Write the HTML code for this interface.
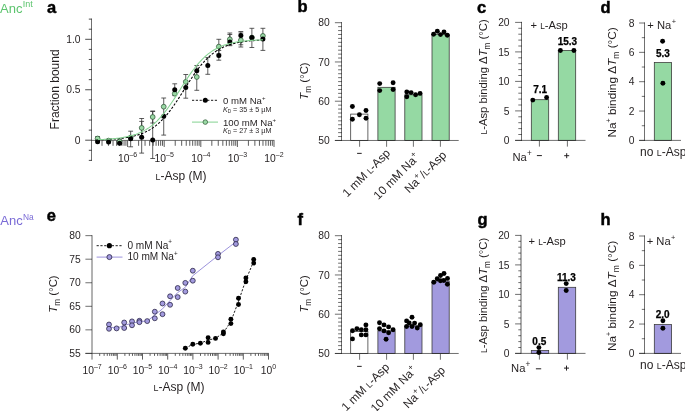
<!DOCTYPE html>
<html><head><meta charset="utf-8"><style>
html,body{margin:0;padding:0;background:#fff;}
svg{display:block;will-change:transform;}
text{font-family:"Liberation Sans",sans-serif;}
</style></head><body>
<svg width="685" height="411" viewBox="0 0 685 411">
<rect width="685" height="411" fill="#fff"/>
<text x="47" y="12.5" font-size="16.5" font-weight="bold" fill="#000" stroke="#000" stroke-width="0.45">a</text>
<text x="297.5" y="12.4" font-size="16.5" font-weight="bold" fill="#000" stroke="#000" stroke-width="0.45">b</text>
<text x="477" y="13" font-size="16.5" font-weight="bold" fill="#000" stroke="#000" stroke-width="0.45">c</text>
<text x="600.5" y="12.6" font-size="16.5" font-weight="bold" fill="#000" stroke="#000" stroke-width="0.45">d</text>
<text x="46.8" y="221.2" font-size="16.5" font-weight="bold" fill="#000" stroke="#000" stroke-width="0.45">e</text>
<text x="297.6" y="224.6" font-size="16.5" font-weight="bold" fill="#000" stroke="#000" stroke-width="0.45">f</text>
<text x="477.4" y="224.5" font-size="16.5" font-weight="bold" fill="#000" stroke="#000" stroke-width="0.45">g</text>
<text x="600.6" y="225.1" font-size="16.5" font-weight="bold" fill="#000" stroke="#000" stroke-width="0.45">h</text>
<text x="0" y="12.7" font-size="13" fill="#5cc46e">Anc<tspan font-size="9" dx="0.3" dy="-5.4">Int</tspan></text>
<text x="0.3" y="224.9" font-size="13" fill="#7a6bd6">Anc<tspan font-size="8.4" dx="0.3" dy="-5.4">Na</tspan></text>
<line x1="91.5" y1="18.72" x2="91.5" y2="160.78" stroke="#222" stroke-width="0.65"/>
<line x1="88.8" y1="160.38" x2="92" y2="160.38" stroke="#3a3a3a" stroke-width="0.9" />
<line x1="88.8" y1="150.29" x2="92" y2="150.29" stroke="#3a3a3a" stroke-width="0.9" />
<line x1="85.2" y1="140.2" x2="92" y2="140.2" stroke="#3a3a3a" stroke-width="0.9" />
<line x1="88.8" y1="130.11" x2="92" y2="130.11" stroke="#3a3a3a" stroke-width="0.9" />
<line x1="88.8" y1="120.02" x2="92" y2="120.02" stroke="#3a3a3a" stroke-width="0.9" />
<line x1="88.8" y1="109.93" x2="92" y2="109.93" stroke="#3a3a3a" stroke-width="0.9" />
<line x1="88.8" y1="99.84" x2="92" y2="99.84" stroke="#3a3a3a" stroke-width="0.9" />
<line x1="85.2" y1="89.75" x2="92" y2="89.75" stroke="#3a3a3a" stroke-width="0.9" />
<line x1="88.8" y1="79.66" x2="92" y2="79.66" stroke="#3a3a3a" stroke-width="0.9" />
<line x1="88.8" y1="69.57" x2="92" y2="69.57" stroke="#3a3a3a" stroke-width="0.9" />
<line x1="88.8" y1="59.48" x2="92" y2="59.48" stroke="#3a3a3a" stroke-width="0.9" />
<line x1="88.8" y1="49.39" x2="92" y2="49.39" stroke="#3a3a3a" stroke-width="0.9" />
<line x1="85.2" y1="39.3" x2="92" y2="39.3" stroke="#3a3a3a" stroke-width="0.9" />
<line x1="88.8" y1="29.21" x2="92" y2="29.21" stroke="#3a3a3a" stroke-width="0.9" />
<line x1="88.8" y1="19.12" x2="92" y2="19.12" stroke="#3a3a3a" stroke-width="0.9" />
<text x="80.6" y="143.8" font-size="10.3" text-anchor="end" fill="#231f20" >0</text>
<text x="80.6" y="93.35" font-size="10.3" text-anchor="end" fill="#231f20" >0.5</text>
<text x="80.6" y="42.9" font-size="10.3" text-anchor="end" fill="#231f20" >1.0</text>
<line x1="102.02" y1="140.5" x2="102.02" y2="145.8" stroke="#333" stroke-width="0.8" />
<line x1="108.46" y1="140.5" x2="108.46" y2="145.8" stroke="#333" stroke-width="0.8" />
<line x1="113.04" y1="140.5" x2="113.04" y2="145.8" stroke="#333" stroke-width="0.8" />
<line x1="116.58" y1="140.5" x2="116.58" y2="145.8" stroke="#333" stroke-width="0.8" />
<line x1="119.48" y1="140.5" x2="119.48" y2="145.8" stroke="#333" stroke-width="0.8" />
<line x1="121.93" y1="140.5" x2="121.93" y2="145.8" stroke="#333" stroke-width="0.8" />
<line x1="124.05" y1="140.5" x2="124.05" y2="145.8" stroke="#333" stroke-width="0.8" />
<line x1="125.93" y1="140.5" x2="125.93" y2="145.8" stroke="#333" stroke-width="0.8" />
<line x1="127.6" y1="140.5" x2="127.6" y2="147" stroke="#333" stroke-width="0.8" />
<line x1="138.62" y1="140.5" x2="138.62" y2="145.8" stroke="#333" stroke-width="0.8" />
<line x1="145.06" y1="140.5" x2="145.06" y2="145.8" stroke="#333" stroke-width="0.8" />
<line x1="149.64" y1="140.5" x2="149.64" y2="145.8" stroke="#333" stroke-width="0.8" />
<line x1="153.18" y1="140.5" x2="153.18" y2="145.8" stroke="#333" stroke-width="0.8" />
<line x1="156.08" y1="140.5" x2="156.08" y2="145.8" stroke="#333" stroke-width="0.8" />
<line x1="158.53" y1="140.5" x2="158.53" y2="145.8" stroke="#333" stroke-width="0.8" />
<line x1="160.65" y1="140.5" x2="160.65" y2="145.8" stroke="#333" stroke-width="0.8" />
<line x1="162.53" y1="140.5" x2="162.53" y2="145.8" stroke="#333" stroke-width="0.8" />
<line x1="164.2" y1="140.5" x2="164.2" y2="147" stroke="#333" stroke-width="0.8" />
<line x1="175.22" y1="140.5" x2="175.22" y2="145.8" stroke="#333" stroke-width="0.8" />
<line x1="181.66" y1="140.5" x2="181.66" y2="145.8" stroke="#333" stroke-width="0.8" />
<line x1="186.24" y1="140.5" x2="186.24" y2="145.8" stroke="#333" stroke-width="0.8" />
<line x1="189.78" y1="140.5" x2="189.78" y2="145.8" stroke="#333" stroke-width="0.8" />
<line x1="192.68" y1="140.5" x2="192.68" y2="145.8" stroke="#333" stroke-width="0.8" />
<line x1="195.13" y1="140.5" x2="195.13" y2="145.8" stroke="#333" stroke-width="0.8" />
<line x1="197.25" y1="140.5" x2="197.25" y2="145.8" stroke="#333" stroke-width="0.8" />
<line x1="199.13" y1="140.5" x2="199.13" y2="145.8" stroke="#333" stroke-width="0.8" />
<line x1="200.8" y1="140.5" x2="200.8" y2="147" stroke="#333" stroke-width="0.8" />
<line x1="211.82" y1="140.5" x2="211.82" y2="145.8" stroke="#333" stroke-width="0.8" />
<line x1="218.26" y1="140.5" x2="218.26" y2="145.8" stroke="#333" stroke-width="0.8" />
<line x1="222.84" y1="140.5" x2="222.84" y2="145.8" stroke="#333" stroke-width="0.8" />
<line x1="226.38" y1="140.5" x2="226.38" y2="145.8" stroke="#333" stroke-width="0.8" />
<line x1="229.28" y1="140.5" x2="229.28" y2="145.8" stroke="#333" stroke-width="0.8" />
<line x1="231.73" y1="140.5" x2="231.73" y2="145.8" stroke="#333" stroke-width="0.8" />
<line x1="233.85" y1="140.5" x2="233.85" y2="145.8" stroke="#333" stroke-width="0.8" />
<line x1="235.73" y1="140.5" x2="235.73" y2="145.8" stroke="#333" stroke-width="0.8" />
<line x1="237.4" y1="140.5" x2="237.4" y2="147" stroke="#333" stroke-width="0.8" />
<line x1="248.42" y1="140.5" x2="248.42" y2="145.8" stroke="#333" stroke-width="0.8" />
<line x1="254.86" y1="140.5" x2="254.86" y2="145.8" stroke="#333" stroke-width="0.8" />
<line x1="259.44" y1="140.5" x2="259.44" y2="145.8" stroke="#333" stroke-width="0.8" />
<line x1="262.98" y1="140.5" x2="262.98" y2="145.8" stroke="#333" stroke-width="0.8" />
<line x1="265.88" y1="140.5" x2="265.88" y2="145.8" stroke="#333" stroke-width="0.8" />
<line x1="268.33" y1="140.5" x2="268.33" y2="145.8" stroke="#333" stroke-width="0.8" />
<line x1="270.45" y1="140.5" x2="270.45" y2="145.8" stroke="#333" stroke-width="0.8" />
<line x1="272.33" y1="140.5" x2="272.33" y2="145.8" stroke="#333" stroke-width="0.8" />
<line x1="274" y1="140.5" x2="274" y2="147" stroke="#333" stroke-width="0.8" />
<line x1="91.5" y1="140.4" x2="274.4" y2="140.4" stroke="#222" stroke-width="0.65"/>
<text x="127.6" y="162.3" font-size="10.3" text-anchor="middle" fill="#231f20">10<tspan font-size="7" dy="-5.2">–6</tspan></text>
<text x="164.2" y="162.3" font-size="10.3" text-anchor="middle" fill="#231f20">10<tspan font-size="7" dy="-5.2">–5</tspan></text>
<text x="200.8" y="162.3" font-size="10.3" text-anchor="middle" fill="#231f20">10<tspan font-size="7" dy="-5.2">–4</tspan></text>
<text x="237.4" y="162.3" font-size="10.3" text-anchor="middle" fill="#231f20">10<tspan font-size="7" dy="-5.2">–3</tspan></text>
<text x="274" y="162.3" font-size="10.3" text-anchor="middle" fill="#231f20">10<tspan font-size="7" dy="-5.2">–2</tspan></text>
<text x="58.6" y="89.4" font-size="12" text-anchor="middle" fill="#231f20" transform="rotate(-90 58.6 89.4)">Fraction bound</text>
<text x="181" y="179.7" font-size="12" text-anchor="middle" fill="#231f20"><tspan font-size="8.88">L</tspan>-Asp (M)</text>
<line x1="141.68" y1="118.5" x2="141.68" y2="137" stroke="#333" stroke-width="0.8" />
<line x1="139.28" y1="118.5" x2="144.08" y2="118.5" stroke="#333" stroke-width="0.8" />
<line x1="139.28" y1="137" x2="144.08" y2="137" stroke="#333" stroke-width="0.8" />
<line x1="152.7" y1="111" x2="152.7" y2="123" stroke="#333" stroke-width="0.8" />
<line x1="150.3" y1="111" x2="155.1" y2="111" stroke="#333" stroke-width="0.8" />
<line x1="150.3" y1="123" x2="155.1" y2="123" stroke="#333" stroke-width="0.8" />
<line x1="196.78" y1="65.5" x2="196.78" y2="90.3" stroke="#333" stroke-width="0.8" />
<line x1="194.38" y1="65.5" x2="199.18" y2="65.5" stroke="#333" stroke-width="0.8" />
<line x1="194.38" y1="90.3" x2="199.18" y2="90.3" stroke="#333" stroke-width="0.8" />
<line x1="218.82" y1="39.3" x2="218.82" y2="54" stroke="#333" stroke-width="0.8" />
<line x1="216.42" y1="39.3" x2="221.22" y2="39.3" stroke="#333" stroke-width="0.8" />
<line x1="216.42" y1="54" x2="221.22" y2="54" stroke="#333" stroke-width="0.8" />
<line x1="229.84" y1="33" x2="229.84" y2="45" stroke="#333" stroke-width="0.8" />
<line x1="227.44" y1="33" x2="232.24" y2="33" stroke="#333" stroke-width="0.8" />
<line x1="227.44" y1="45" x2="232.24" y2="45" stroke="#333" stroke-width="0.8" />
<line x1="240.86" y1="33" x2="240.86" y2="47" stroke="#333" stroke-width="0.8" />
<line x1="238.46" y1="33" x2="243.26" y2="33" stroke="#333" stroke-width="0.8" />
<line x1="238.46" y1="47" x2="243.26" y2="47" stroke="#333" stroke-width="0.8" />
<line x1="119.64" y1="139" x2="119.64" y2="144" stroke="#333" stroke-width="0.8" />
<line x1="117.24" y1="139" x2="122.04" y2="139" stroke="#333" stroke-width="0.8" />
<line x1="117.24" y1="144" x2="122.04" y2="144" stroke="#333" stroke-width="0.8" />
<line x1="97.6" y1="136.5" x2="97.6" y2="140.5" stroke="#333" stroke-width="0.8" />
<line x1="95.2" y1="136.5" x2="100" y2="136.5" stroke="#333" stroke-width="0.8" />
<line x1="95.2" y1="140.5" x2="100" y2="140.5" stroke="#333" stroke-width="0.8" />
<line x1="130.66" y1="131.2" x2="130.66" y2="146.8" stroke="#333" stroke-width="0.8" />
<line x1="128.26" y1="131.2" x2="133.06" y2="131.2" stroke="#333" stroke-width="0.8" />
<line x1="128.26" y1="146.8" x2="133.06" y2="146.8" stroke="#333" stroke-width="0.8" />
<line x1="141.68" y1="121.4" x2="141.68" y2="153.1" stroke="#333" stroke-width="0.8" />
<line x1="139.28" y1="121.4" x2="144.08" y2="121.4" stroke="#333" stroke-width="0.8" />
<line x1="139.28" y1="153.1" x2="144.08" y2="153.1" stroke="#333" stroke-width="0.8" />
<line x1="152.7" y1="111.5" x2="152.7" y2="158.5" stroke="#333" stroke-width="0.8" />
<line x1="150.3" y1="111.5" x2="155.1" y2="111.5" stroke="#333" stroke-width="0.8" />
<line x1="150.3" y1="158.5" x2="155.1" y2="158.5" stroke="#333" stroke-width="0.8" />
<line x1="163.72" y1="98" x2="163.72" y2="135.1" stroke="#333" stroke-width="0.8" />
<line x1="161.32" y1="98" x2="166.12" y2="98" stroke="#333" stroke-width="0.8" />
<line x1="161.32" y1="135.1" x2="166.12" y2="135.1" stroke="#333" stroke-width="0.8" />
<line x1="174.74" y1="83.8" x2="174.74" y2="95.6" stroke="#333" stroke-width="0.8" />
<line x1="172.34" y1="83.8" x2="177.14" y2="83.8" stroke="#333" stroke-width="0.8" />
<line x1="172.34" y1="95.6" x2="177.14" y2="95.6" stroke="#333" stroke-width="0.8" />
<line x1="185.76" y1="74.5" x2="185.76" y2="98.2" stroke="#333" stroke-width="0.8" />
<line x1="183.36" y1="74.5" x2="188.16" y2="74.5" stroke="#333" stroke-width="0.8" />
<line x1="183.36" y1="98.2" x2="188.16" y2="98.2" stroke="#333" stroke-width="0.8" />
<line x1="207.8" y1="57.5" x2="207.8" y2="74.3" stroke="#333" stroke-width="0.8" />
<line x1="205.4" y1="57.5" x2="210.2" y2="57.5" stroke="#333" stroke-width="0.8" />
<line x1="205.4" y1="74.3" x2="210.2" y2="74.3" stroke="#333" stroke-width="0.8" />
<line x1="218.82" y1="50.5" x2="218.82" y2="60.2" stroke="#333" stroke-width="0.8" />
<line x1="216.42" y1="50.5" x2="221.22" y2="50.5" stroke="#333" stroke-width="0.8" />
<line x1="216.42" y1="60.2" x2="221.22" y2="60.2" stroke="#333" stroke-width="0.8" />
<line x1="229.84" y1="34.5" x2="229.84" y2="45.7" stroke="#333" stroke-width="0.8" />
<line x1="227.44" y1="34.5" x2="232.24" y2="34.5" stroke="#333" stroke-width="0.8" />
<line x1="227.44" y1="45.7" x2="232.24" y2="45.7" stroke="#333" stroke-width="0.8" />
<line x1="240.86" y1="31.5" x2="240.86" y2="44.8" stroke="#333" stroke-width="0.8" />
<line x1="238.46" y1="31.5" x2="243.26" y2="31.5" stroke="#333" stroke-width="0.8" />
<line x1="238.46" y1="44.8" x2="243.26" y2="44.8" stroke="#333" stroke-width="0.8" />
<line x1="251.88" y1="28.3" x2="251.88" y2="47.5" stroke="#333" stroke-width="0.8" />
<line x1="249.48" y1="28.3" x2="254.28" y2="28.3" stroke="#333" stroke-width="0.8" />
<line x1="249.48" y1="47.5" x2="254.28" y2="47.5" stroke="#333" stroke-width="0.8" />
<line x1="262.9" y1="28.3" x2="262.9" y2="50.4" stroke="#333" stroke-width="0.8" />
<line x1="260.5" y1="28.3" x2="265.3" y2="28.3" stroke="#333" stroke-width="0.8" />
<line x1="260.5" y1="50.4" x2="265.3" y2="50.4" stroke="#333" stroke-width="0.8" />
<circle cx="97.6" cy="138.5" r="2.4" fill="#9ad9a5" stroke="#2c5434" stroke-width="0.75"/>
<circle cx="108.62" cy="140.6" r="2.4" fill="#9ad9a5" stroke="#2c5434" stroke-width="0.75"/>
<circle cx="119.64" cy="141.4" r="2.4" fill="#9ad9a5" stroke="#2c5434" stroke-width="0.75"/>
<circle cx="130.66" cy="137.5" r="2.4" fill="#9ad9a5" stroke="#2c5434" stroke-width="0.75"/>
<circle cx="141.68" cy="127.9" r="2.4" fill="#9ad9a5" stroke="#2c5434" stroke-width="0.75"/>
<circle cx="152.7" cy="117" r="2.4" fill="#9ad9a5" stroke="#2c5434" stroke-width="0.75"/>
<circle cx="163.72" cy="106.7" r="2.4" fill="#9ad9a5" stroke="#2c5434" stroke-width="0.75"/>
<circle cx="174.74" cy="93.7" r="2.4" fill="#9ad9a5" stroke="#2c5434" stroke-width="0.75"/>
<circle cx="185.76" cy="81.8" r="2.4" fill="#9ad9a5" stroke="#2c5434" stroke-width="0.75"/>
<circle cx="196.78" cy="77" r="2.4" fill="#9ad9a5" stroke="#2c5434" stroke-width="0.75"/>
<circle cx="218.82" cy="46.6" r="2.4" fill="#9ad9a5" stroke="#2c5434" stroke-width="0.75"/>
<circle cx="229.84" cy="39.3" r="2.4" fill="#9ad9a5" stroke="#2c5434" stroke-width="0.75"/>
<circle cx="240.86" cy="40.2" r="2.4" fill="#9ad9a5" stroke="#2c5434" stroke-width="0.75"/>
<circle cx="251.88" cy="37.6" r="2.4" fill="#9ad9a5" stroke="#2c5434" stroke-width="0.75"/>
<circle cx="262.9" cy="35.9" r="2.4" fill="#9ad9a5" stroke="#2c5434" stroke-width="0.75"/>
<circle cx="97.6" cy="141.7" r="2.5" fill="#000"/>
<circle cx="108.62" cy="142" r="2.5" fill="#000"/>
<circle cx="119.64" cy="143.2" r="2.5" fill="#000"/>
<circle cx="130.66" cy="138.8" r="2.5" fill="#000"/>
<circle cx="141.68" cy="137.3" r="2.5" fill="#000"/>
<circle cx="152.7" cy="140" r="2.5" fill="#000"/>
<circle cx="163.72" cy="116.3" r="2.5" fill="#000"/>
<circle cx="174.74" cy="89.7" r="2.5" fill="#000"/>
<circle cx="185.76" cy="87.6" r="2.5" fill="#000"/>
<circle cx="196.78" cy="70.7" r="2.5" fill="#000"/>
<circle cx="207.8" cy="65.5" r="2.5" fill="#000"/>
<circle cx="218.82" cy="55.6" r="2.5" fill="#000"/>
<circle cx="229.84" cy="41.9" r="2.5" fill="#000"/>
<circle cx="240.86" cy="35.6" r="2.5" fill="#000"/>
<circle cx="251.88" cy="37.5" r="2.5" fill="#000"/>
<circle cx="262.9" cy="39" r="2.5" fill="#000"/>
<polyline points="97.7,139.76 99.08,139.72 100.45,139.68 101.83,139.63 103.21,139.58 104.59,139.53 105.97,139.47 107.34,139.4 108.72,139.33 110.1,139.25 111.48,139.17 112.85,139.07 114.23,138.97 115.61,138.86 116.99,138.74 118.36,138.61 119.74,138.47 121.12,138.32 122.5,138.15 123.87,137.97 125.25,137.77 126.63,137.56 128,137.33 129.38,137.07 130.76,136.8 132.14,136.51 133.52,136.18 134.89,135.84 136.27,135.46 137.65,135.05 139.03,134.61 140.4,134.14 141.78,133.62 143.16,133.07 144.54,132.47 145.91,131.83 147.29,131.14 148.67,130.4 150.05,129.61 151.42,128.76 152.8,127.85 154.18,126.88 155.56,125.85 156.93,124.75 158.31,123.58 159.69,122.34 161.06,121.03 162.44,119.65 163.82,118.19 165.2,116.66 166.57,115.06 167.95,113.39 169.33,111.65 170.71,109.85 172.09,107.98 173.46,106.05 174.84,104.06 176.22,102.03 177.6,99.95 178.97,97.84 180.35,95.69 181.73,93.53 183.11,91.35 184.48,89.16 185.86,86.98 187.24,84.81 188.62,82.65 189.99,80.52 191.37,78.43 192.75,76.37 194.12,74.37 195.5,72.41 196.88,70.51 198.26,68.68 199.63,66.9 201.01,65.2 202.39,63.57 203.77,62.01 205.15,60.52 206.52,59.1 207.9,57.76 209.28,56.49 210.66,55.29 212.03,54.16 213.41,53.09 214.79,52.09 216.17,51.15 217.54,50.28 218.92,49.46 220.3,48.69 221.68,47.98 223.05,47.32 224.43,46.7 225.81,46.13 227.19,45.6 228.56,45.1 229.94,44.65 231.32,44.23 232.69,43.83 234.07,43.47 235.45,43.14 236.83,42.83 238.21,42.55 239.58,42.29 240.96,42.05 242.34,41.82 243.72,41.62 245.09,41.43 246.47,41.26 247.85,41.1 249.23,40.95 250.6,40.82 251.98,40.69 253.36,40.58 254.74,40.47 256.11,40.38 257.49,40.29 258.87,40.21 260.25,40.13 261.62,40.06 263,40" fill="none" stroke="#000" stroke-width="1.1" stroke-dasharray="2.4,1.6"/>
<polyline points="97.7,139.63 99.08,139.58 100.45,139.53 101.83,139.47 103.21,139.4 104.59,139.33 105.97,139.25 107.34,139.17 108.72,139.07 110.1,138.97 111.48,138.86 112.85,138.74 114.23,138.61 115.61,138.47 116.99,138.32 118.36,138.15 119.74,137.97 121.12,137.77 122.5,137.56 123.87,137.33 125.25,137.08 126.63,136.8 128,136.51 129.38,136.19 130.76,135.84 132.14,135.46 133.52,135.05 134.89,134.61 136.27,134.14 137.65,133.63 139.03,133.07 140.4,132.48 141.78,131.84 143.16,131.15 144.54,130.41 145.91,129.61 147.29,128.76 148.67,127.86 150.05,126.89 151.42,125.85 152.8,124.75 154.18,123.58 155.56,122.35 156.93,121.04 158.31,119.65 159.69,118.2 161.06,116.67 162.44,115.07 163.82,113.4 165.2,111.66 166.57,109.86 167.95,107.99 169.33,106.06 170.71,104.07 172.09,102.04 173.46,99.96 174.84,97.85 176.22,95.71 177.6,93.54 178.97,91.36 180.35,89.18 181.73,86.99 183.11,84.82 184.48,82.66 185.86,80.54 187.24,78.44 188.62,76.39 189.99,74.38 191.37,72.42 192.75,70.52 194.12,68.69 195.5,66.91 196.88,65.21 198.26,63.58 199.63,62.02 201.01,60.53 202.39,59.11 203.77,57.77 205.15,56.49 206.52,55.29 207.9,54.16 209.28,53.1 210.66,52.1 212.03,51.16 213.41,50.28 214.79,49.46 216.17,48.7 217.54,47.98 218.92,47.32 220.3,46.7 221.68,46.13 223.05,45.6 224.43,45.11 225.81,44.65 227.19,44.23 228.56,43.84 229.94,43.48 231.32,43.14 232.69,42.83 234.07,42.55 235.45,42.29 236.83,42.05 238.21,41.82 239.58,41.62 240.96,41.43 242.34,41.26 243.72,41.1 245.09,40.95 246.47,40.82 247.85,40.69 249.23,40.58 250.6,40.47 251.98,40.38 253.36,40.29 254.74,40.21 256.11,40.13 257.49,40.06 258.87,40 260.25,39.94 261.62,39.89 263,39.84" fill="none" stroke="#84d291" stroke-width="1.05"/>
<line x1="192" y1="100.3" x2="217.6" y2="100.3" stroke="#000" stroke-width="0.9" stroke-dasharray="2.2,1.6"/>
<circle cx="205.3" cy="100.3" r="2.5" fill="#000"/>
<line x1="192" y1="122.1" x2="218" y2="122.1" stroke="#84d291" stroke-width="1.0" />
<circle cx="205.3" cy="122.1" r="2.3" fill="#9ad9a5" stroke="#2c5434" stroke-width="0.7"/>
<text x="223" y="103.5" font-size="9.6" fill="#231f20">0 mM Na<tspan font-size="6" dy="-4">+</tspan></text>
<text x="223" y="125.6" font-size="9.6" fill="#231f20">100 mM Na<tspan font-size="6" dy="-4">+</tspan></text>
<text x="223" y="111.9" font-size="7.2" fill="#231f20"><tspan font-style="italic">K</tspan><tspan font-size="4.6" dy="1.2">D</tspan><tspan dy="-1.2"> = 35 ± 5 µM</tspan></text>
<text x="223" y="132.9" font-size="7.2" fill="#231f20"><tspan font-style="italic">K</tspan><tspan font-size="4.6" dy="1.2">D</tspan><tspan dy="-1.2"> = 27 ± 3 µM</tspan></text>
<line x1="341.5" y1="22.2" x2="341.5" y2="140.97" stroke="#222" stroke-width="0.65"/>
<line x1="334.9" y1="140.47" x2="342" y2="140.47" stroke="#222" stroke-width="0.65"/>
<line x1="338.1" y1="136.54" x2="342" y2="136.54" stroke="#222" stroke-width="0.65"/>
<line x1="338.1" y1="132.62" x2="342" y2="132.62" stroke="#222" stroke-width="0.65"/>
<line x1="338.1" y1="128.69" x2="342" y2="128.69" stroke="#222" stroke-width="0.65"/>
<line x1="338.1" y1="124.77" x2="342" y2="124.77" stroke="#222" stroke-width="0.65"/>
<line x1="338.1" y1="120.84" x2="342" y2="120.84" stroke="#222" stroke-width="0.65"/>
<line x1="338.1" y1="116.92" x2="342" y2="116.92" stroke="#222" stroke-width="0.65"/>
<line x1="338.1" y1="112.99" x2="342" y2="112.99" stroke="#222" stroke-width="0.65"/>
<line x1="338.1" y1="109.07" x2="342" y2="109.07" stroke="#222" stroke-width="0.65"/>
<line x1="338.1" y1="105.14" x2="342" y2="105.14" stroke="#222" stroke-width="0.65"/>
<line x1="334.9" y1="101.21" x2="342" y2="101.21" stroke="#222" stroke-width="0.65"/>
<line x1="338.1" y1="97.29" x2="342" y2="97.29" stroke="#222" stroke-width="0.65"/>
<line x1="338.1" y1="93.36" x2="342" y2="93.36" stroke="#222" stroke-width="0.65"/>
<line x1="338.1" y1="89.44" x2="342" y2="89.44" stroke="#222" stroke-width="0.65"/>
<line x1="338.1" y1="85.51" x2="342" y2="85.51" stroke="#222" stroke-width="0.65"/>
<line x1="338.1" y1="81.59" x2="342" y2="81.59" stroke="#222" stroke-width="0.65"/>
<line x1="338.1" y1="77.66" x2="342" y2="77.66" stroke="#222" stroke-width="0.65"/>
<line x1="338.1" y1="73.73" x2="342" y2="73.73" stroke="#222" stroke-width="0.65"/>
<line x1="338.1" y1="69.81" x2="342" y2="69.81" stroke="#222" stroke-width="0.65"/>
<line x1="338.1" y1="65.88" x2="342" y2="65.88" stroke="#222" stroke-width="0.65"/>
<line x1="334.9" y1="61.96" x2="342" y2="61.96" stroke="#222" stroke-width="0.65"/>
<line x1="338.1" y1="58.03" x2="342" y2="58.03" stroke="#222" stroke-width="0.65"/>
<line x1="338.1" y1="54.11" x2="342" y2="54.11" stroke="#222" stroke-width="0.65"/>
<line x1="338.1" y1="50.18" x2="342" y2="50.18" stroke="#222" stroke-width="0.65"/>
<line x1="338.1" y1="46.26" x2="342" y2="46.26" stroke="#222" stroke-width="0.65"/>
<line x1="338.1" y1="42.33" x2="342" y2="42.33" stroke="#222" stroke-width="0.65"/>
<line x1="338.1" y1="38.4" x2="342" y2="38.4" stroke="#222" stroke-width="0.65"/>
<line x1="338.1" y1="34.48" x2="342" y2="34.48" stroke="#222" stroke-width="0.65"/>
<line x1="338.1" y1="30.55" x2="342" y2="30.55" stroke="#222" stroke-width="0.65"/>
<line x1="338.1" y1="26.63" x2="342" y2="26.63" stroke="#222" stroke-width="0.65"/>
<line x1="334.9" y1="22.7" x2="342" y2="22.7" stroke="#222" stroke-width="0.65"/>
<text x="329.7" y="144.07" font-size="10.3" text-anchor="end" fill="#231f20" >50</text>
<text x="329.7" y="104.81" font-size="10.3" text-anchor="end" fill="#231f20" >60</text>
<text x="329.7" y="65.56" font-size="10.3" text-anchor="end" fill="#231f20" >70</text>
<text x="329.7" y="26.3" font-size="10.3" text-anchor="end" fill="#231f20" >80</text>
<line x1="359.6" y1="140.47" x2="359.6" y2="146.77" stroke="#222" stroke-width="0.65"/>
<rect x="350.7" y="114.1" width="17.2" height="26.37" fill="#fff" stroke="#333" stroke-width="0.75"/>
<line x1="386.6" y1="140.47" x2="386.6" y2="146.77" stroke="#222" stroke-width="0.65"/>
<rect x="377.9" y="87.3" width="17.2" height="53.17" fill="#95d9a3" stroke="#333" stroke-width="0.75"/>
<line x1="413.4" y1="140.47" x2="413.4" y2="146.77" stroke="#222" stroke-width="0.65"/>
<rect x="404.8" y="94.8" width="17.2" height="45.67" fill="#95d9a3" stroke="#333" stroke-width="0.75"/>
<line x1="440.4" y1="140.47" x2="440.4" y2="146.77" stroke="#222" stroke-width="0.65"/>
<rect x="432" y="34.6" width="17.2" height="105.87" fill="#95d9a3" stroke="#333" stroke-width="0.75"/>
<line x1="334.9" y1="140.47" x2="458.7" y2="140.47" stroke="#222" stroke-width="0.65"/>
<circle cx="352.4" cy="106.5" r="2.45" fill="#000"/>
<circle cx="359.4" cy="114.8" r="2.45" fill="#000"/>
<circle cx="366" cy="110.5" r="2.45" fill="#000"/>
<circle cx="352.4" cy="119.2" r="2.45" fill="#000"/>
<circle cx="366" cy="118.2" r="2.45" fill="#000"/>
<circle cx="379.7" cy="83.6" r="2.45" fill="#000"/>
<circle cx="393.1" cy="82.7" r="2.45" fill="#000"/>
<circle cx="379.7" cy="90.6" r="2.45" fill="#000"/>
<circle cx="393.1" cy="89.5" r="2.45" fill="#000"/>
<circle cx="406.8" cy="91.9" r="2.45" fill="#000"/>
<circle cx="406.8" cy="96.8" r="2.45" fill="#000"/>
<circle cx="411.1" cy="92.6" r="2.45" fill="#000"/>
<circle cx="415.6" cy="94.8" r="2.45" fill="#000"/>
<circle cx="420.1" cy="93.4" r="2.45" fill="#000"/>
<circle cx="433.6" cy="34.2" r="2.45" fill="#000"/>
<circle cx="437.3" cy="31.3" r="2.45" fill="#000"/>
<circle cx="440.5" cy="34.6" r="2.45" fill="#000"/>
<circle cx="444" cy="32" r="2.45" fill="#000"/>
<circle cx="447.3" cy="35.3" r="2.45" fill="#000"/>
<line x1="357.1" y1="153.37" x2="361.7" y2="153.37" stroke="#231f20" stroke-width="1.0" />
<text x="391" y="153.97" font-size="11.8" text-anchor="end" fill="#231f20" transform="rotate(-45 391 153.97)">1 mM <tspan font-size="8.73">L</tspan>-Asp</text>
<text x="420.4" y="158.07" font-size="11.8" text-anchor="end" fill="#231f20" transform="rotate(-45 420.4 158.07)">10 mM Na<tspan font-size="8.2" dx="0.3" dy="-4.8">+</tspan></text>
<text x="447.1" y="155.77" font-size="11.8" text-anchor="end" fill="#231f20" transform="rotate(-45 447.1 155.77)">Na<tspan font-size="8.2" dx="0.3" dy="-4.8">+</tspan><tspan dy="4.8" dx="1.0">/</tspan><tspan font-size="8.73">L</tspan>-Asp</text>
<text x="307.6" y="81" font-size="11.4" text-anchor="middle" fill="#231f20" transform="rotate(-90 307.6 81)"><tspan font-style="italic">T</tspan><tspan font-size="8.21" dy="3.0">m</tspan><tspan dy="-3.0"> (°C)</tspan></text>
<line x1="341.5" y1="235.2" x2="341.5" y2="353.97" stroke="#222" stroke-width="0.65"/>
<line x1="334.9" y1="353.47" x2="342" y2="353.47" stroke="#222" stroke-width="0.65"/>
<line x1="338.1" y1="349.54" x2="342" y2="349.54" stroke="#222" stroke-width="0.65"/>
<line x1="338.1" y1="345.62" x2="342" y2="345.62" stroke="#222" stroke-width="0.65"/>
<line x1="338.1" y1="341.69" x2="342" y2="341.69" stroke="#222" stroke-width="0.65"/>
<line x1="338.1" y1="337.77" x2="342" y2="337.77" stroke="#222" stroke-width="0.65"/>
<line x1="338.1" y1="333.84" x2="342" y2="333.84" stroke="#222" stroke-width="0.65"/>
<line x1="338.1" y1="329.92" x2="342" y2="329.92" stroke="#222" stroke-width="0.65"/>
<line x1="338.1" y1="325.99" x2="342" y2="325.99" stroke="#222" stroke-width="0.65"/>
<line x1="338.1" y1="322.07" x2="342" y2="322.07" stroke="#222" stroke-width="0.65"/>
<line x1="338.1" y1="318.14" x2="342" y2="318.14" stroke="#222" stroke-width="0.65"/>
<line x1="334.9" y1="314.21" x2="342" y2="314.21" stroke="#222" stroke-width="0.65"/>
<line x1="338.1" y1="310.29" x2="342" y2="310.29" stroke="#222" stroke-width="0.65"/>
<line x1="338.1" y1="306.36" x2="342" y2="306.36" stroke="#222" stroke-width="0.65"/>
<line x1="338.1" y1="302.44" x2="342" y2="302.44" stroke="#222" stroke-width="0.65"/>
<line x1="338.1" y1="298.51" x2="342" y2="298.51" stroke="#222" stroke-width="0.65"/>
<line x1="338.1" y1="294.59" x2="342" y2="294.59" stroke="#222" stroke-width="0.65"/>
<line x1="338.1" y1="290.66" x2="342" y2="290.66" stroke="#222" stroke-width="0.65"/>
<line x1="338.1" y1="286.73" x2="342" y2="286.73" stroke="#222" stroke-width="0.65"/>
<line x1="338.1" y1="282.81" x2="342" y2="282.81" stroke="#222" stroke-width="0.65"/>
<line x1="338.1" y1="278.88" x2="342" y2="278.88" stroke="#222" stroke-width="0.65"/>
<line x1="334.9" y1="274.96" x2="342" y2="274.96" stroke="#222" stroke-width="0.65"/>
<line x1="338.1" y1="271.03" x2="342" y2="271.03" stroke="#222" stroke-width="0.65"/>
<line x1="338.1" y1="267.11" x2="342" y2="267.11" stroke="#222" stroke-width="0.65"/>
<line x1="338.1" y1="263.18" x2="342" y2="263.18" stroke="#222" stroke-width="0.65"/>
<line x1="338.1" y1="259.26" x2="342" y2="259.26" stroke="#222" stroke-width="0.65"/>
<line x1="338.1" y1="255.33" x2="342" y2="255.33" stroke="#222" stroke-width="0.65"/>
<line x1="338.1" y1="251.4" x2="342" y2="251.4" stroke="#222" stroke-width="0.65"/>
<line x1="338.1" y1="247.48" x2="342" y2="247.48" stroke="#222" stroke-width="0.65"/>
<line x1="338.1" y1="243.55" x2="342" y2="243.55" stroke="#222" stroke-width="0.65"/>
<line x1="338.1" y1="239.63" x2="342" y2="239.63" stroke="#222" stroke-width="0.65"/>
<line x1="334.9" y1="235.7" x2="342" y2="235.7" stroke="#222" stroke-width="0.65"/>
<text x="329.7" y="357.07" font-size="10.3" text-anchor="end" fill="#231f20" >50</text>
<text x="329.7" y="317.81" font-size="10.3" text-anchor="end" fill="#231f20" >60</text>
<text x="329.7" y="278.56" font-size="10.3" text-anchor="end" fill="#231f20" >70</text>
<text x="329.7" y="239.3" font-size="10.3" text-anchor="end" fill="#231f20" >80</text>
<line x1="359.6" y1="353.47" x2="359.6" y2="359.77" stroke="#222" stroke-width="0.65"/>
<rect x="350.7" y="331.6" width="17.2" height="21.87" fill="#fff" stroke="#333" stroke-width="0.75"/>
<line x1="386.6" y1="353.47" x2="386.6" y2="359.77" stroke="#222" stroke-width="0.65"/>
<rect x="377.9" y="330.9" width="17.2" height="22.57" fill="#a29ade" stroke="#333" stroke-width="0.75"/>
<line x1="413.4" y1="353.47" x2="413.4" y2="359.77" stroke="#222" stroke-width="0.65"/>
<rect x="404.8" y="325.8" width="17.2" height="27.67" fill="#a29ade" stroke="#333" stroke-width="0.75"/>
<line x1="440.4" y1="353.47" x2="440.4" y2="359.77" stroke="#222" stroke-width="0.65"/>
<rect x="432" y="281.1" width="17.2" height="72.37" fill="#a29ade" stroke="#333" stroke-width="0.75"/>
<line x1="334.9" y1="353.47" x2="458.7" y2="353.47" stroke="#222" stroke-width="0.65"/>
<circle cx="352.5" cy="330.7" r="2.45" fill="#000"/>
<circle cx="356.9" cy="328.7" r="2.45" fill="#000"/>
<circle cx="361.3" cy="329.8" r="2.45" fill="#000"/>
<circle cx="365.9" cy="324.9" r="2.45" fill="#000"/>
<circle cx="365.9" cy="329.8" r="2.45" fill="#000"/>
<circle cx="361.3" cy="334.9" r="2.45" fill="#000"/>
<circle cx="365.9" cy="334.9" r="2.45" fill="#000"/>
<circle cx="352.5" cy="338.9" r="2.45" fill="#000"/>
<circle cx="379.5" cy="322.8" r="2.45" fill="#000"/>
<circle cx="384" cy="324.9" r="2.45" fill="#000"/>
<circle cx="388.6" cy="326.9" r="2.45" fill="#000"/>
<circle cx="379.5" cy="328.7" r="2.45" fill="#000"/>
<circle cx="384" cy="330.9" r="2.45" fill="#000"/>
<circle cx="393.1" cy="329.8" r="2.45" fill="#000"/>
<circle cx="388.6" cy="332.8" r="2.45" fill="#000"/>
<circle cx="386.1" cy="339.2" r="2.45" fill="#000"/>
<circle cx="412" cy="317.2" r="2.45" fill="#000"/>
<circle cx="406.6" cy="320.9" r="2.45" fill="#000"/>
<circle cx="409.2" cy="322.9" r="2.45" fill="#000"/>
<circle cx="414.6" cy="323.1" r="2.45" fill="#000"/>
<circle cx="420.3" cy="324.8" r="2.45" fill="#000"/>
<circle cx="406.6" cy="326.5" r="2.45" fill="#000"/>
<circle cx="412" cy="326.5" r="2.45" fill="#000"/>
<circle cx="417.3" cy="328" r="2.45" fill="#000"/>
<circle cx="444" cy="273.5" r="2.45" fill="#000"/>
<circle cx="440.5" cy="275.5" r="2.45" fill="#000"/>
<circle cx="437.2" cy="278.7" r="2.45" fill="#000"/>
<circle cx="447.5" cy="278.4" r="2.45" fill="#000"/>
<circle cx="440.5" cy="280.8" r="2.45" fill="#000"/>
<circle cx="443.8" cy="280.5" r="2.45" fill="#000"/>
<circle cx="433.8" cy="282.3" r="2.45" fill="#000"/>
<circle cx="447.4" cy="284.3" r="2.45" fill="#000"/>
<line x1="357.1" y1="366.37" x2="361.7" y2="366.37" stroke="#231f20" stroke-width="1.0" />
<text x="390.1" y="367.87" font-size="11.8" text-anchor="end" fill="#231f20" transform="rotate(-45 390.1 367.87)">1 mM <tspan font-size="8.73">L</tspan>-Asp</text>
<text x="417.6" y="370.97" font-size="11.8" text-anchor="end" fill="#231f20" transform="rotate(-45 417.6 370.97)">10 mM Na<tspan font-size="8.2" dx="0.3" dy="-4.8">+</tspan></text>
<text x="445.9" y="371.17" font-size="11.8" text-anchor="end" fill="#231f20" transform="rotate(-45 445.9 371.17)">Na<tspan font-size="8.2" dx="0.3" dy="-4.8">+</tspan><tspan dy="4.8" dx="1.0">/</tspan><tspan font-size="8.73">L</tspan>-Asp</text>
<text x="307.6" y="293.9" font-size="11.4" text-anchor="middle" fill="#231f20" transform="rotate(-90 307.6 293.9)"><tspan font-style="italic">T</tspan><tspan font-size="8.21" dy="3.0">m</tspan><tspan dy="-3.0"> (°C)</tspan></text>
<line x1="521.5" y1="21.9" x2="521.5" y2="140.9" stroke="#222" stroke-width="0.65"/>
<line x1="515.1" y1="140.4" x2="522" y2="140.4" stroke="#222" stroke-width="0.65"/>
<line x1="518.3" y1="134.5" x2="522" y2="134.5" stroke="#222" stroke-width="0.65"/>
<line x1="518.3" y1="128.6" x2="522" y2="128.6" stroke="#222" stroke-width="0.65"/>
<line x1="518.3" y1="122.7" x2="522" y2="122.7" stroke="#222" stroke-width="0.65"/>
<line x1="518.3" y1="116.8" x2="522" y2="116.8" stroke="#222" stroke-width="0.65"/>
<line x1="515.1" y1="110.9" x2="522" y2="110.9" stroke="#222" stroke-width="0.65"/>
<line x1="518.3" y1="105" x2="522" y2="105" stroke="#222" stroke-width="0.65"/>
<line x1="518.3" y1="99.1" x2="522" y2="99.1" stroke="#222" stroke-width="0.65"/>
<line x1="518.3" y1="93.2" x2="522" y2="93.2" stroke="#222" stroke-width="0.65"/>
<line x1="518.3" y1="87.3" x2="522" y2="87.3" stroke="#222" stroke-width="0.65"/>
<line x1="515.1" y1="81.4" x2="522" y2="81.4" stroke="#222" stroke-width="0.65"/>
<line x1="518.3" y1="75.5" x2="522" y2="75.5" stroke="#222" stroke-width="0.65"/>
<line x1="518.3" y1="69.6" x2="522" y2="69.6" stroke="#222" stroke-width="0.65"/>
<line x1="518.3" y1="63.7" x2="522" y2="63.7" stroke="#222" stroke-width="0.65"/>
<line x1="518.3" y1="57.8" x2="522" y2="57.8" stroke="#222" stroke-width="0.65"/>
<line x1="515.1" y1="51.9" x2="522" y2="51.9" stroke="#222" stroke-width="0.65"/>
<line x1="518.3" y1="46" x2="522" y2="46" stroke="#222" stroke-width="0.65"/>
<line x1="518.3" y1="40.1" x2="522" y2="40.1" stroke="#222" stroke-width="0.65"/>
<line x1="518.3" y1="34.2" x2="522" y2="34.2" stroke="#222" stroke-width="0.65"/>
<line x1="518.3" y1="28.3" x2="522" y2="28.3" stroke="#222" stroke-width="0.65"/>
<line x1="515.1" y1="22.4" x2="522" y2="22.4" stroke="#222" stroke-width="0.65"/>
<text x="509.6" y="144" font-size="10.3" text-anchor="end" fill="#231f20" >0</text>
<text x="509.6" y="114.5" font-size="10.3" text-anchor="end" fill="#231f20" >5</text>
<text x="509.6" y="85" font-size="10.3" text-anchor="end" fill="#231f20" >10</text>
<text x="509.6" y="55.5" font-size="10.3" text-anchor="end" fill="#231f20" >15</text>
<text x="509.6" y="26" font-size="10.3" text-anchor="end" fill="#231f20" >20</text>
<line x1="539.4" y1="140.4" x2="539.4" y2="146.6" stroke="#222" stroke-width="0.65"/>
<rect x="531.3" y="99.7" width="17.4" height="40.7" fill="#95d9a3" stroke="#333" stroke-width="0.75"/>
<line x1="567.4" y1="140.4" x2="567.4" y2="146.6" stroke="#222" stroke-width="0.65"/>
<rect x="558.3" y="50.4" width="17.4" height="90" fill="#95d9a3" stroke="#333" stroke-width="0.75"/>
<line x1="515.1" y1="140.4" x2="585.5" y2="140.4" stroke="#222" stroke-width="0.65"/>
<circle cx="532.8" cy="100.1" r="2.45" fill="#000"/>
<circle cx="546.6" cy="97.5" r="2.45" fill="#000"/>
<circle cx="560.4" cy="50.5" r="2.45" fill="#000"/>
<circle cx="573.9" cy="50.5" r="2.45" fill="#000"/>
<text x="540.2" y="92.6" font-size="10" text-anchor="middle" font-weight="bold" fill="#000" stroke="#000" stroke-width="0.25">7.1</text>
<text x="567.4" y="45" font-size="10" text-anchor="middle" font-weight="bold" fill="#000" stroke="#000" stroke-width="0.25">15.3</text>
<text x="530.5" y="29" font-size="11.2" fill="#231f20">+ <tspan font-size="8.29">L</tspan>-Asp</text>
<text x="512.5" y="160.9" font-size="11.2" fill="#231f20">Na<tspan font-size="8.2" dx="0.2" dy="-5.0">+</tspan></text>
<line x1="536.9" y1="155.6" x2="541.9" y2="155.6" stroke="#231f20" stroke-width="1.0" />
<line x1="564.2" y1="155.7" x2="569.2" y2="155.7" stroke="#231f20" stroke-width="1.0" />
<line x1="566.7" y1="153.2" x2="566.7" y2="158.2" stroke="#231f20" stroke-width="1.0" />
<text x="487.3" y="76.9" font-size="11.3" text-anchor="middle" fill="#231f20" transform="rotate(-90 487.3 76.9)"><tspan font-size="8.36">L</tspan>-Asp binding Δ<tspan font-style="italic">T</tspan><tspan font-size="8.14" dy="3">m</tspan><tspan dy="-3"> (°C)</tspan></text>
<line x1="521" y1="234.9" x2="521" y2="353.9" stroke="#333" stroke-width="0.8" />
<line x1="515.1" y1="353.4" x2="521" y2="353.4" stroke="#222" stroke-width="0.65"/>
<line x1="518.3" y1="347.5" x2="521" y2="347.5" stroke="#222" stroke-width="0.65"/>
<line x1="518.3" y1="341.6" x2="521" y2="341.6" stroke="#222" stroke-width="0.65"/>
<line x1="518.3" y1="335.7" x2="521" y2="335.7" stroke="#222" stroke-width="0.65"/>
<line x1="518.3" y1="329.8" x2="521" y2="329.8" stroke="#222" stroke-width="0.65"/>
<line x1="515.1" y1="323.9" x2="521" y2="323.9" stroke="#222" stroke-width="0.65"/>
<line x1="518.3" y1="318" x2="521" y2="318" stroke="#222" stroke-width="0.65"/>
<line x1="518.3" y1="312.1" x2="521" y2="312.1" stroke="#222" stroke-width="0.65"/>
<line x1="518.3" y1="306.2" x2="521" y2="306.2" stroke="#222" stroke-width="0.65"/>
<line x1="518.3" y1="300.3" x2="521" y2="300.3" stroke="#222" stroke-width="0.65"/>
<line x1="515.1" y1="294.4" x2="521" y2="294.4" stroke="#222" stroke-width="0.65"/>
<line x1="518.3" y1="288.5" x2="521" y2="288.5" stroke="#222" stroke-width="0.65"/>
<line x1="518.3" y1="282.6" x2="521" y2="282.6" stroke="#222" stroke-width="0.65"/>
<line x1="518.3" y1="276.7" x2="521" y2="276.7" stroke="#222" stroke-width="0.65"/>
<line x1="518.3" y1="270.8" x2="521" y2="270.8" stroke="#222" stroke-width="0.65"/>
<line x1="515.1" y1="264.9" x2="521" y2="264.9" stroke="#222" stroke-width="0.65"/>
<line x1="518.3" y1="259" x2="521" y2="259" stroke="#222" stroke-width="0.65"/>
<line x1="518.3" y1="253.1" x2="521" y2="253.1" stroke="#222" stroke-width="0.65"/>
<line x1="518.3" y1="247.2" x2="521" y2="247.2" stroke="#222" stroke-width="0.65"/>
<line x1="518.3" y1="241.3" x2="521" y2="241.3" stroke="#222" stroke-width="0.65"/>
<line x1="515.1" y1="235.4" x2="521" y2="235.4" stroke="#222" stroke-width="0.65"/>
<text x="509.6" y="357" font-size="10.3" text-anchor="end" fill="#231f20" >0</text>
<text x="509.6" y="327.5" font-size="10.3" text-anchor="end" fill="#231f20" >5</text>
<text x="509.6" y="298" font-size="10.3" text-anchor="end" fill="#231f20" >10</text>
<text x="509.6" y="268.5" font-size="10.3" text-anchor="end" fill="#231f20" >15</text>
<text x="509.6" y="239" font-size="10.3" text-anchor="end" fill="#231f20" >20</text>
<line x1="539.4" y1="353.4" x2="539.4" y2="359.6" stroke="#222" stroke-width="0.65"/>
<rect x="531.3" y="350.6" width="17.4" height="2.8" fill="#a29ade" stroke="#333" stroke-width="0.75"/>
<line x1="567.4" y1="353.4" x2="567.4" y2="359.6" stroke="#222" stroke-width="0.65"/>
<rect x="558.3" y="287.3" width="17.4" height="66.1" fill="#a29ade" stroke="#333" stroke-width="0.75"/>
<line x1="515.1" y1="353.4" x2="585.5" y2="353.4" stroke="#222" stroke-width="0.65"/>
<circle cx="538.9" cy="347.6" r="2.45" fill="#000"/>
<circle cx="538.9" cy="352.5" r="2.45" fill="#000"/>
<circle cx="566.2" cy="283.6" r="2.45" fill="#000"/>
<circle cx="566.2" cy="290.5" r="2.45" fill="#000"/>
<text x="539.3" y="344.5" font-size="10" text-anchor="middle" font-weight="bold" fill="#000" stroke="#000" stroke-width="0.25">0.5</text>
<text x="566.4" y="280.7" font-size="10" text-anchor="middle" font-weight="bold" fill="#000" stroke="#000" stroke-width="0.25">11.3</text>
<text x="528.5" y="244.8" font-size="11.2" fill="#231f20">+ <tspan font-size="8.29">L</tspan>-Asp</text>
<text x="511.1" y="372.3" font-size="11.2" fill="#231f20">Na<tspan font-size="8.2" dx="0.2" dy="-5.0">+</tspan></text>
<line x1="535.9" y1="368.8" x2="541.2" y2="368.8" stroke="#231f20" stroke-width="1.0" />
<line x1="564" y1="368.1" x2="569" y2="368.1" stroke="#231f20" stroke-width="1.0" />
<line x1="566.5" y1="365.6" x2="566.5" y2="370.6" stroke="#231f20" stroke-width="1.0" />
<text x="487.3" y="295.4" font-size="11.3" text-anchor="middle" fill="#231f20" transform="rotate(-90 487.3 295.4)"><tspan font-size="8.36">L</tspan>-Asp binding Δ<tspan font-style="italic">T</tspan><tspan font-size="8.14" dy="3">m</tspan><tspan dy="-3"> (°C)</tspan></text>
<line x1="644.5" y1="22.5" x2="644.5" y2="140.9" stroke="#222" stroke-width="0.65"/>
<line x1="639.1" y1="140.4" x2="645" y2="140.4" stroke="#222" stroke-width="0.65"/>
<line x1="641.8" y1="125.73" x2="645" y2="125.73" stroke="#222" stroke-width="0.65"/>
<line x1="639.1" y1="111.05" x2="645" y2="111.05" stroke="#222" stroke-width="0.65"/>
<line x1="641.8" y1="96.38" x2="645" y2="96.38" stroke="#222" stroke-width="0.65"/>
<line x1="639.1" y1="81.7" x2="645" y2="81.7" stroke="#222" stroke-width="0.65"/>
<line x1="641.8" y1="67.03" x2="645" y2="67.03" stroke="#222" stroke-width="0.65"/>
<line x1="639.1" y1="52.35" x2="645" y2="52.35" stroke="#222" stroke-width="0.65"/>
<line x1="641.8" y1="37.67" x2="645" y2="37.67" stroke="#222" stroke-width="0.65"/>
<line x1="639.1" y1="23" x2="645" y2="23" stroke="#222" stroke-width="0.65"/>
<text x="634.6" y="144" font-size="10.3" text-anchor="end" fill="#231f20" >0</text>
<text x="634.6" y="114.65" font-size="10.3" text-anchor="end" fill="#231f20" >2</text>
<text x="634.6" y="85.3" font-size="10.3" text-anchor="end" fill="#231f20" >4</text>
<text x="634.6" y="55.95" font-size="10.3" text-anchor="end" fill="#231f20" >6</text>
<text x="634.6" y="26.6" font-size="10.3" text-anchor="end" fill="#231f20" >8</text>
<rect x="654.3" y="62.6" width="17.3" height="77.8" fill="#95d9a3" stroke="#333" stroke-width="0.75"/>
<line x1="639.1" y1="140.4" x2="681" y2="140.4" stroke="#222" stroke-width="0.65"/>
<circle cx="662.6" cy="41.2" r="2.45" fill="#000"/>
<circle cx="662.9" cy="83.3" r="2.45" fill="#000"/>
<text x="662.9" y="57.2" font-size="10" text-anchor="middle" font-weight="bold" fill="#000" stroke="#000" stroke-width="0.25">5.3</text>
<text x="647.3" y="28.8" font-size="11.2" fill="#231f20">+ Na<tspan font-size="7.4" dx="0.4" dy="-5.2">+</tspan></text>
<text x="640.1" y="155.9" font-size="12" fill="#231f20">no <tspan font-size="8.88">L</tspan>-Asp</text>
<text x="615.9" y="82.4" font-size="11.8" text-anchor="middle" fill="#231f20" transform="rotate(-90 615.9 82.4)">Na<tspan font-size="7.08" dy="-4.5">+</tspan><tspan dy="4.5"> binding Δ</tspan><tspan font-style="italic">T</tspan><tspan font-size="8.5" dy="3">m</tspan><tspan dy="-3"> (°C)</tspan></text>
<line x1="644.5" y1="235.5" x2="644.5" y2="353.9" stroke="#222" stroke-width="0.65"/>
<line x1="639.1" y1="353.4" x2="645" y2="353.4" stroke="#222" stroke-width="0.65"/>
<line x1="641.8" y1="338.72" x2="645" y2="338.72" stroke="#222" stroke-width="0.65"/>
<line x1="639.1" y1="324.05" x2="645" y2="324.05" stroke="#222" stroke-width="0.65"/>
<line x1="641.8" y1="309.38" x2="645" y2="309.38" stroke="#222" stroke-width="0.65"/>
<line x1="639.1" y1="294.7" x2="645" y2="294.7" stroke="#222" stroke-width="0.65"/>
<line x1="641.8" y1="280.02" x2="645" y2="280.02" stroke="#222" stroke-width="0.65"/>
<line x1="639.1" y1="265.35" x2="645" y2="265.35" stroke="#222" stroke-width="0.65"/>
<line x1="641.8" y1="250.67" x2="645" y2="250.67" stroke="#222" stroke-width="0.65"/>
<line x1="639.1" y1="236" x2="645" y2="236" stroke="#222" stroke-width="0.65"/>
<text x="634.6" y="357" font-size="10.3" text-anchor="end" fill="#231f20" >0</text>
<text x="634.6" y="327.65" font-size="10.3" text-anchor="end" fill="#231f20" >2</text>
<text x="634.6" y="298.3" font-size="10.3" text-anchor="end" fill="#231f20" >4</text>
<text x="634.6" y="268.95" font-size="10.3" text-anchor="end" fill="#231f20" >6</text>
<text x="634.6" y="239.6" font-size="10.3" text-anchor="end" fill="#231f20" >8</text>
<rect x="654.3" y="324.6" width="17.3" height="28.8" fill="#a29ade" stroke="#333" stroke-width="0.75"/>
<line x1="639.1" y1="353.4" x2="681" y2="353.4" stroke="#222" stroke-width="0.65"/>
<circle cx="662.9" cy="320.7" r="2.45" fill="#000"/>
<circle cx="662.9" cy="328.3" r="2.45" fill="#000"/>
<text x="662.7" y="318" font-size="10" text-anchor="middle" font-weight="bold" fill="#000" stroke="#000" stroke-width="0.25">2.0</text>
<text x="646.7" y="244.8" font-size="11.2" fill="#231f20">+ Na<tspan font-size="7.4" dx="0.4" dy="-5.2">+</tspan></text>
<text x="640.1" y="368.7" font-size="12" fill="#231f20">no <tspan font-size="8.88">L</tspan>-Asp</text>
<text x="615.9" y="295.9" font-size="11.8" text-anchor="middle" fill="#231f20" transform="rotate(-90 615.9 295.9)">Na<tspan font-size="7.08" dy="-4.5">+</tspan><tspan dy="4.5"> binding Δ</tspan><tspan font-style="italic">T</tspan><tspan font-size="8.5" dy="3">m</tspan><tspan dy="-3"> (°C)</tspan></text>
<line x1="92" y1="235.15" x2="92" y2="359.6" stroke="#333" stroke-width="0.75" />
<line x1="85.4" y1="353.4" x2="92" y2="353.4" stroke="#222" stroke-width="0.65"/>
<text x="80.7" y="357" font-size="10.3" text-anchor="end" fill="#231f20" >55</text>
<line x1="85.4" y1="329.85" x2="92" y2="329.85" stroke="#222" stroke-width="0.65"/>
<text x="80.7" y="333.45" font-size="10.3" text-anchor="end" fill="#231f20" >60</text>
<line x1="85.4" y1="306.3" x2="92" y2="306.3" stroke="#222" stroke-width="0.65"/>
<text x="80.7" y="309.9" font-size="10.3" text-anchor="end" fill="#231f20" >65</text>
<line x1="85.4" y1="282.75" x2="92" y2="282.75" stroke="#222" stroke-width="0.65"/>
<text x="80.7" y="286.35" font-size="10.3" text-anchor="end" fill="#231f20" >70</text>
<line x1="85.4" y1="259.2" x2="92" y2="259.2" stroke="#222" stroke-width="0.65"/>
<text x="80.7" y="262.8" font-size="10.3" text-anchor="end" fill="#231f20" >75</text>
<line x1="85.4" y1="235.65" x2="92" y2="235.65" stroke="#222" stroke-width="0.65"/>
<text x="80.7" y="239.25" font-size="10.3" text-anchor="end" fill="#231f20" >80</text>
<line x1="99.69" y1="353.5" x2="99.69" y2="355.9" stroke="#333" stroke-width="0.8" />
<line x1="104.12" y1="353.5" x2="104.12" y2="355.9" stroke="#333" stroke-width="0.8" />
<line x1="107.27" y1="353.5" x2="107.27" y2="355.9" stroke="#333" stroke-width="0.8" />
<line x1="109.71" y1="353.5" x2="109.71" y2="355.9" stroke="#333" stroke-width="0.8" />
<line x1="111.71" y1="353.5" x2="111.71" y2="355.9" stroke="#333" stroke-width="0.8" />
<line x1="113.4" y1="353.5" x2="113.4" y2="355.9" stroke="#333" stroke-width="0.8" />
<line x1="114.86" y1="353.5" x2="114.86" y2="355.9" stroke="#333" stroke-width="0.8" />
<line x1="116.15" y1="353.5" x2="116.15" y2="355.9" stroke="#333" stroke-width="0.8" />
<line x1="124.89" y1="353.5" x2="124.89" y2="355.9" stroke="#333" stroke-width="0.8" />
<line x1="129.32" y1="353.5" x2="129.32" y2="355.9" stroke="#333" stroke-width="0.8" />
<line x1="132.47" y1="353.5" x2="132.47" y2="355.9" stroke="#333" stroke-width="0.8" />
<line x1="134.91" y1="353.5" x2="134.91" y2="355.9" stroke="#333" stroke-width="0.8" />
<line x1="136.91" y1="353.5" x2="136.91" y2="355.9" stroke="#333" stroke-width="0.8" />
<line x1="138.6" y1="353.5" x2="138.6" y2="355.9" stroke="#333" stroke-width="0.8" />
<line x1="140.06" y1="353.5" x2="140.06" y2="355.9" stroke="#333" stroke-width="0.8" />
<line x1="141.35" y1="353.5" x2="141.35" y2="355.9" stroke="#333" stroke-width="0.8" />
<line x1="150.09" y1="353.5" x2="150.09" y2="355.9" stroke="#333" stroke-width="0.8" />
<line x1="154.52" y1="353.5" x2="154.52" y2="355.9" stroke="#333" stroke-width="0.8" />
<line x1="157.67" y1="353.5" x2="157.67" y2="355.9" stroke="#333" stroke-width="0.8" />
<line x1="160.11" y1="353.5" x2="160.11" y2="355.9" stroke="#333" stroke-width="0.8" />
<line x1="162.11" y1="353.5" x2="162.11" y2="355.9" stroke="#333" stroke-width="0.8" />
<line x1="163.8" y1="353.5" x2="163.8" y2="355.9" stroke="#333" stroke-width="0.8" />
<line x1="165.26" y1="353.5" x2="165.26" y2="355.9" stroke="#333" stroke-width="0.8" />
<line x1="166.55" y1="353.5" x2="166.55" y2="355.9" stroke="#333" stroke-width="0.8" />
<line x1="175.29" y1="353.5" x2="175.29" y2="355.9" stroke="#333" stroke-width="0.8" />
<line x1="179.72" y1="353.5" x2="179.72" y2="355.9" stroke="#333" stroke-width="0.8" />
<line x1="182.87" y1="353.5" x2="182.87" y2="355.9" stroke="#333" stroke-width="0.8" />
<line x1="185.31" y1="353.5" x2="185.31" y2="355.9" stroke="#333" stroke-width="0.8" />
<line x1="187.31" y1="353.5" x2="187.31" y2="355.9" stroke="#333" stroke-width="0.8" />
<line x1="189" y1="353.5" x2="189" y2="355.9" stroke="#333" stroke-width="0.8" />
<line x1="190.46" y1="353.5" x2="190.46" y2="355.9" stroke="#333" stroke-width="0.8" />
<line x1="191.75" y1="353.5" x2="191.75" y2="355.9" stroke="#333" stroke-width="0.8" />
<line x1="200.49" y1="353.5" x2="200.49" y2="355.9" stroke="#333" stroke-width="0.8" />
<line x1="204.92" y1="353.5" x2="204.92" y2="355.9" stroke="#333" stroke-width="0.8" />
<line x1="208.07" y1="353.5" x2="208.07" y2="355.9" stroke="#333" stroke-width="0.8" />
<line x1="210.51" y1="353.5" x2="210.51" y2="355.9" stroke="#333" stroke-width="0.8" />
<line x1="212.51" y1="353.5" x2="212.51" y2="355.9" stroke="#333" stroke-width="0.8" />
<line x1="214.2" y1="353.5" x2="214.2" y2="355.9" stroke="#333" stroke-width="0.8" />
<line x1="215.66" y1="353.5" x2="215.66" y2="355.9" stroke="#333" stroke-width="0.8" />
<line x1="216.95" y1="353.5" x2="216.95" y2="355.9" stroke="#333" stroke-width="0.8" />
<line x1="225.69" y1="353.5" x2="225.69" y2="355.9" stroke="#333" stroke-width="0.8" />
<line x1="230.12" y1="353.5" x2="230.12" y2="355.9" stroke="#333" stroke-width="0.8" />
<line x1="233.27" y1="353.5" x2="233.27" y2="355.9" stroke="#333" stroke-width="0.8" />
<line x1="235.71" y1="353.5" x2="235.71" y2="355.9" stroke="#333" stroke-width="0.8" />
<line x1="237.71" y1="353.5" x2="237.71" y2="355.9" stroke="#333" stroke-width="0.8" />
<line x1="239.4" y1="353.5" x2="239.4" y2="355.9" stroke="#333" stroke-width="0.8" />
<line x1="240.86" y1="353.5" x2="240.86" y2="355.9" stroke="#333" stroke-width="0.8" />
<line x1="242.15" y1="353.5" x2="242.15" y2="355.9" stroke="#333" stroke-width="0.8" />
<line x1="250.89" y1="353.5" x2="250.89" y2="355.9" stroke="#333" stroke-width="0.8" />
<line x1="255.32" y1="353.5" x2="255.32" y2="355.9" stroke="#333" stroke-width="0.8" />
<line x1="258.47" y1="353.5" x2="258.47" y2="355.9" stroke="#333" stroke-width="0.8" />
<line x1="260.91" y1="353.5" x2="260.91" y2="355.9" stroke="#333" stroke-width="0.8" />
<line x1="262.91" y1="353.5" x2="262.91" y2="355.9" stroke="#333" stroke-width="0.8" />
<line x1="264.6" y1="353.5" x2="264.6" y2="355.9" stroke="#333" stroke-width="0.8" />
<line x1="266.06" y1="353.5" x2="266.06" y2="355.9" stroke="#333" stroke-width="0.8" />
<line x1="267.35" y1="353.5" x2="267.35" y2="355.9" stroke="#333" stroke-width="0.8" />
<line x1="117.3" y1="353.5" x2="117.3" y2="359.6" stroke="#333" stroke-width="0.8" />
<line x1="142.5" y1="353.5" x2="142.5" y2="359.6" stroke="#333" stroke-width="0.8" />
<line x1="167.7" y1="353.5" x2="167.7" y2="359.6" stroke="#333" stroke-width="0.8" />
<line x1="192.9" y1="353.5" x2="192.9" y2="359.6" stroke="#333" stroke-width="0.8" />
<line x1="218.1" y1="353.5" x2="218.1" y2="359.6" stroke="#333" stroke-width="0.8" />
<line x1="243.3" y1="353.5" x2="243.3" y2="359.6" stroke="#333" stroke-width="0.8" />
<line x1="268.5" y1="353.5" x2="268.5" y2="359.6" stroke="#333" stroke-width="0.8" />
<line x1="85.4" y1="353.4" x2="268.9" y2="353.4" stroke="#222" stroke-width="0.65"/>
<text x="92.1" y="374" font-size="10.3" text-anchor="middle" fill="#231f20">10<tspan font-size="7" dy="-5.2">–7</tspan></text>
<text x="117.3" y="374" font-size="10.3" text-anchor="middle" fill="#231f20">10<tspan font-size="7" dy="-5.2">–6</tspan></text>
<text x="142.5" y="374" font-size="10.3" text-anchor="middle" fill="#231f20">10<tspan font-size="7" dy="-5.2">–5</tspan></text>
<text x="167.7" y="374" font-size="10.3" text-anchor="middle" fill="#231f20">10<tspan font-size="7" dy="-5.2">–4</tspan></text>
<text x="192.9" y="374" font-size="10.3" text-anchor="middle" fill="#231f20">10<tspan font-size="7" dy="-5.2">–3</tspan></text>
<text x="218.1" y="374" font-size="10.3" text-anchor="middle" fill="#231f20">10<tspan font-size="7" dy="-5.2">–2</tspan></text>
<text x="243.3" y="374" font-size="10.3" text-anchor="middle" fill="#231f20">10<tspan font-size="7" dy="-5.2">–1</tspan></text>
<text x="268.5" y="374" font-size="10.3" text-anchor="middle" fill="#231f20">10<tspan font-size="7" dy="-5.2">0</tspan></text>
<text x="179" y="391.4" font-size="12" text-anchor="middle" fill="#231f20"><tspan font-size="8.88">L</tspan>-Asp (M)</text>
<text x="56.9" y="294" font-size="11.4" text-anchor="middle" fill="#231f20" transform="rotate(-90 56.9 294)"><tspan font-style="italic">T</tspan><tspan font-size="8.21" dy="3.0">m</tspan><tspan dy="-3.0"> (°C)</tspan></text>
<polyline points="109,326.65 116.6,328.4 124.2,325.25 132,323.35 139.4,321.5 147.2,321.1 154.8,315 162.5,308.85 170.1,300.55 177.7,292.55 185.3,287.25 192.8,275.7 218,255.6 235.9,241.85" fill="none" stroke="#9c93dc" stroke-width="1"/>
<polyline points="185.3,348.2 192.8,344.3 200.4,343.2 208.1,340.1 215.5,338.4 223.4,332.85 230.9,321.4 238.5,301.4 245.9,279.85 253.7,261.25" fill="none" stroke="#000" stroke-width="0.9" stroke-dasharray="2.2,1.6"/>
<circle cx="109" cy="324.5" r="2.45" fill="#a29ade" stroke="#2a2548" stroke-width="0.8"/>
<circle cx="109" cy="328.8" r="2.45" fill="#a29ade" stroke="#2a2548" stroke-width="0.8"/>
<circle cx="116.6" cy="328.4" r="2.45" fill="#a29ade" stroke="#2a2548" stroke-width="0.8"/>
<circle cx="124.2" cy="322.5" r="2.45" fill="#a29ade" stroke="#2a2548" stroke-width="0.8"/>
<circle cx="124.2" cy="328" r="2.45" fill="#a29ade" stroke="#2a2548" stroke-width="0.8"/>
<circle cx="132" cy="321.4" r="2.45" fill="#a29ade" stroke="#2a2548" stroke-width="0.8"/>
<circle cx="132" cy="325.3" r="2.45" fill="#a29ade" stroke="#2a2548" stroke-width="0.8"/>
<circle cx="139.4" cy="320.8" r="2.45" fill="#a29ade" stroke="#2a2548" stroke-width="0.8"/>
<circle cx="139.4" cy="322.2" r="2.45" fill="#a29ade" stroke="#2a2548" stroke-width="0.8"/>
<circle cx="147.2" cy="321.1" r="2.45" fill="#a29ade" stroke="#2a2548" stroke-width="0.8"/>
<circle cx="154.8" cy="311.7" r="2.45" fill="#a29ade" stroke="#2a2548" stroke-width="0.8"/>
<circle cx="154.8" cy="318.3" r="2.45" fill="#a29ade" stroke="#2a2548" stroke-width="0.8"/>
<circle cx="162.5" cy="303.5" r="2.45" fill="#a29ade" stroke="#2a2548" stroke-width="0.8"/>
<circle cx="162.5" cy="314.2" r="2.45" fill="#a29ade" stroke="#2a2548" stroke-width="0.8"/>
<circle cx="170.1" cy="296.3" r="2.45" fill="#a29ade" stroke="#2a2548" stroke-width="0.8"/>
<circle cx="170.1" cy="304.8" r="2.45" fill="#a29ade" stroke="#2a2548" stroke-width="0.8"/>
<circle cx="177.7" cy="288" r="2.45" fill="#a29ade" stroke="#2a2548" stroke-width="0.8"/>
<circle cx="177.7" cy="297.1" r="2.45" fill="#a29ade" stroke="#2a2548" stroke-width="0.8"/>
<circle cx="185.3" cy="282.9" r="2.45" fill="#a29ade" stroke="#2a2548" stroke-width="0.8"/>
<circle cx="185.3" cy="291.6" r="2.45" fill="#a29ade" stroke="#2a2548" stroke-width="0.8"/>
<circle cx="192.8" cy="270.7" r="2.45" fill="#a29ade" stroke="#2a2548" stroke-width="0.8"/>
<circle cx="192.8" cy="280.7" r="2.45" fill="#a29ade" stroke="#2a2548" stroke-width="0.8"/>
<circle cx="218" cy="253.9" r="2.45" fill="#a29ade" stroke="#2a2548" stroke-width="0.8"/>
<circle cx="218" cy="257.3" r="2.45" fill="#a29ade" stroke="#2a2548" stroke-width="0.8"/>
<circle cx="235.9" cy="239.7" r="2.45" fill="#a29ade" stroke="#2a2548" stroke-width="0.8"/>
<circle cx="235.9" cy="244" r="2.45" fill="#a29ade" stroke="#2a2548" stroke-width="0.8"/>
<circle cx="185.3" cy="348.2" r="2.45" fill="#000"/>
<circle cx="192.8" cy="344.3" r="2.45" fill="#000"/>
<circle cx="200.4" cy="343.2" r="2.45" fill="#000"/>
<circle cx="208.1" cy="337.8" r="2.45" fill="#000"/>
<circle cx="208.1" cy="342.4" r="2.45" fill="#000"/>
<circle cx="215.5" cy="338.4" r="2.45" fill="#000"/>
<circle cx="223.4" cy="331.9" r="2.45" fill="#000"/>
<circle cx="223.4" cy="333.8" r="2.45" fill="#000"/>
<circle cx="230.9" cy="319.2" r="2.45" fill="#000"/>
<circle cx="230.9" cy="323.6" r="2.45" fill="#000"/>
<circle cx="238.5" cy="298.3" r="2.45" fill="#000"/>
<circle cx="238.5" cy="304.5" r="2.45" fill="#000"/>
<circle cx="245.9" cy="277.9" r="2.45" fill="#000"/>
<circle cx="245.9" cy="281.8" r="2.45" fill="#000"/>
<circle cx="253.7" cy="259.4" r="2.45" fill="#000"/>
<circle cx="253.7" cy="263.1" r="2.45" fill="#000"/>
<line x1="96.6" y1="245.7" x2="121.8" y2="245.7" stroke="#000" stroke-width="0.9" stroke-dasharray="2.2,1.6"/>
<circle cx="109.4" cy="245.7" r="2.6" fill="#000"/>
<line x1="96.6" y1="257.1" x2="122.5" y2="257.1" stroke="#9c93dc" stroke-width="1.0" />
<circle cx="109.4" cy="257.1" r="2.5" fill="#a29ade" stroke="#2a2548" stroke-width="0.8"/>
<text x="127.4" y="248.6" font-size="10.1" fill="#231f20">0 mM Na<tspan font-size="6.3" dy="-4.6">+</tspan></text>
<text x="127.4" y="260.3" font-size="10.1" fill="#231f20">10 mM Na<tspan font-size="6.3" dy="-4.6">+</tspan></text>
</svg>
</body></html>
